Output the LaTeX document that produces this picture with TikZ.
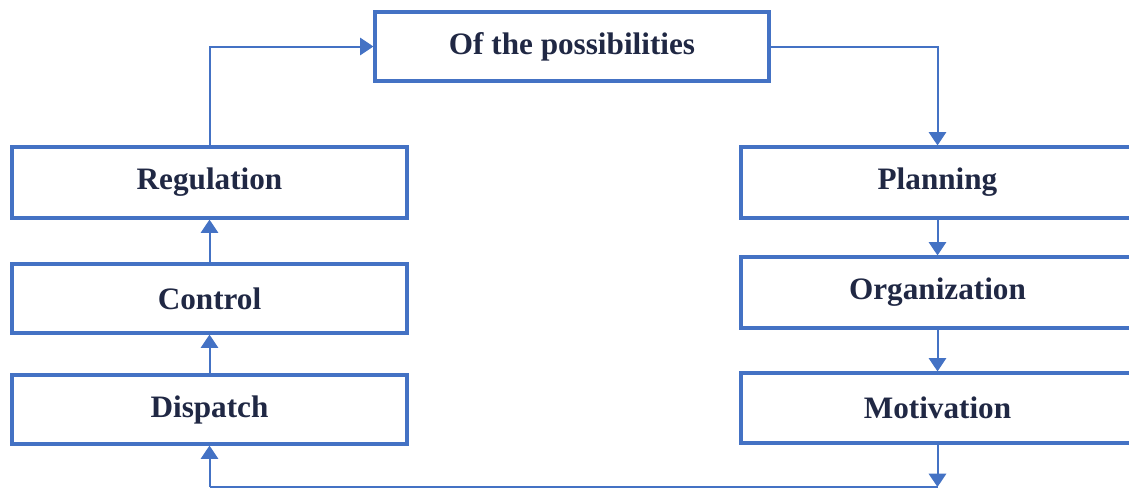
\documentclass[tikz,border=0pt]{standalone}
\usepackage{fontspec}
\setmainfont{Liberation Serif}
\usetikzlibrary{arrows.meta}
\definecolor{boxblue}{RGB}{68,114,196}
\definecolor{txtnavy}{RGB}{32,40,68}
\begin{document}
\begin{tikzpicture}[x=0.75pt,y=-0.75pt,
  box/.style={draw=boxblue, line width=2.4pt, fill=white, rectangle, inner sep=0pt,
    font=\fontsize{23.4}{28}\selectfont\bfseries, text=txtnavy},
  conn/.style={draw=boxblue, line width=1.5pt, -{Triangle[width=13pt,length=10pt]}},
  plain/.style={draw=boxblue, line width=1.5pt}]
\useasboundingbox (0,0) rectangle (1129,489);
\fill[white] (0,0) rectangle (1129,489);
\node[box, minimum width=295.5pt, minimum height=51.75pt] (top) at (572,46.5) {Of the possibilities};
\node[box, minimum width=296.25pt, minimum height=53.25pt] (reg) at (209.5,182.5) {Regulation};
\node[box, minimum width=296.25pt, minimum height=51.75pt] (con) at (209.5,298.5) {Control};
\node[box, minimum width=296.25pt, minimum height=51.75pt] (dis) at (209.5,409.5) {Dispatch};
\node[box, minimum width=294.75pt, minimum height=53.25pt] (pla) at (937.5,182.5) {Planning};
\node[box, minimum width=294.75pt, minimum height=53.25pt] (org) at (937.5,292.5) {Organization};
\node[box, minimum width=294.75pt, minimum height=52.5pt] (mot) at (937.5,408) {Motivation};
\coordinate (b1) at (937.5,487);
\coordinate (b2) at (209.5,487);
\draw[conn] (reg.north) |- (top.west);
\draw[conn] (top.east) -| (pla.north);
\draw[conn] (pla.south) -- (org.north);
\draw[conn] (org.south) -- (mot.north);
\draw[conn] (mot.south) -- (b1);
\draw[plain] (b1) -- (b2);
\draw[conn] (b2) -- (dis.south);
\draw[conn] (dis.north) -- (con.south);
\draw[conn] (con.north) -- (reg.south);
\end{tikzpicture}
\end{document}
